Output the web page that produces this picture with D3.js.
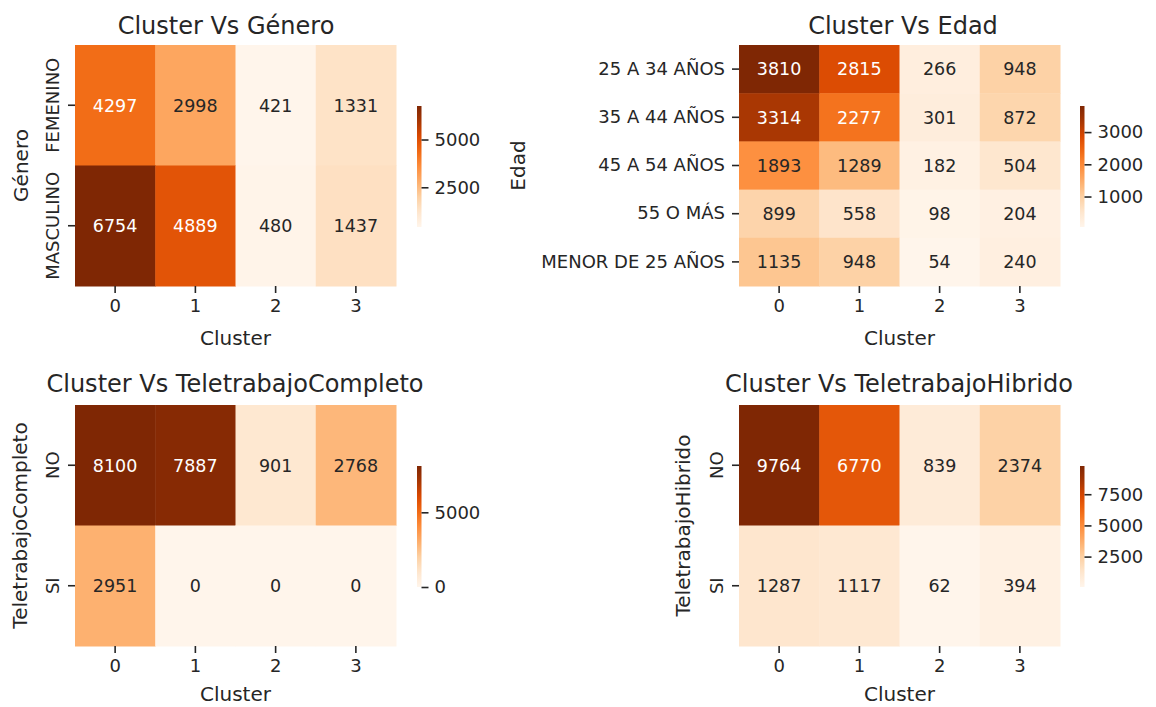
<!DOCTYPE html>
<html>
<head>
<meta charset="utf-8">
<script src="https://cdn.jsdelivr.net/npm/d3@7"></script>
<style>
  html, body { margin: 0; padding: 0; background: #fff; }
  svg { display: block; font-family: "DejaVu Sans", sans-serif; }
</style>
</head>
<body>
<svg id="chart" width="1156" height="707"></svg>
<script>
// ---------------- data ----------------
const clusters = ["0", "1", "2", "3"];

const generoCats = ["FEMENINO", "MASCULINO"];
const generoValues = [
  [4297, 2998, 421, 1331],
  [6754, 4889, 480, 1437]
];
const generoTicks = [2500, 5000];

const edadCats = ["25 A 34 AÑOS", "35 A 44 AÑOS", "45 A 54 AÑOS", "55 O MÁS", "MENOR DE 25 AÑOS"];
const edadValues = [
  [3810, 2815, 266, 948],
  [3314, 2277, 301, 872],
  [1893, 1289, 182, 504],
  [899, 558, 98, 204],
  [1135, 948, 54, 240]
];
const edadTicks = [1000, 2000, 3000];

const completoCats = ["NO", "SI"];
const completoValues = [
  [8100, 7887, 901, 2768],
  [2951, 0, 0, 0]
];
const completoTicks = [0, 5000];

const hibridoCats = ["NO", "SI"];
const hibridoValues = [
  [9764, 6770, 839, 2374],
  [1287, 1117, 62, 394]
];
const hibridoTicks = [2500, 5000, 7500];

// ---------------- layout ----------------
const panels = [
  { title: "Cluster Vs Género", ylabel: "Género", cats: generoCats, values: generoValues, ticks: generoTicks,
    x0: 75, y0: 45, w: 321, h: 241, titleX: 226, titleY: 34, ylabX: 28, rotY: true, cbX: 417, xlabY: 345 },
  { title: "Cluster Vs Edad", ylabel: "Edad", cats: edadCats, values: edadValues, ticks: edadTicks,
    x0: 739, y0: 45, w: 321, h: 241, titleX: 903, titleY: 34, ylabX: 525, rotY: false, cbX: 1080, xlabY: 345 },
  { title: "Cluster Vs TeletrabajoCompleto", ylabel: "TeletrabajoCompleto", cats: completoCats, values: completoValues, ticks: completoTicks,
    x0: 75, y0: 405, w: 321, h: 241, titleX: 235, titleY: 392, ylabX: 27, rotY: true, cbX: 417, xlabY: 701 },
  { title: "Cluster Vs TeletrabajoHibrido", ylabel: "TeletrabajoHibrido", cats: hibridoCats, values: hibridoValues, ticks: hibridoTicks,
    x0: 739, y0: 405, w: 321, h: 241, titleX: 899, titleY: 392, ylabX: 690, rotY: true, cbX: 1080, xlabY: 701 }
];

const TEXT = "#262626";
const svg = d3.select("#chart");
const defs = svg.append("defs");

function luminance(c) {
  const rgb = d3.rgb(c);
  const f = v => { v /= 255; return v <= 0.03928 ? v / 12.92 : Math.pow((v + 0.055) / 1.055, 2.4); };
  return 0.2126 * f(rgb.r) + 0.7152 * f(rgb.g) + 0.0722 * f(rgb.b);
}

panels.forEach((p, pi) => {
  const flat = p.values.flat();
  const vmin = d3.min(flat), vmax = d3.max(flat);
  const scheme = d3.schemeOranges[9];
  const color = d3.scaleLinear()
    .domain(scheme.map((_, i) => vmin + (vmax - vmin) * i / (scheme.length - 1)))
    .range(scheme)
    .interpolate(d3.interpolateRgb)
    .clamp(true);

  const x = d3.scaleBand().domain(clusters).range([p.x0, p.x0 + p.w]).padding(0);
  const y = d3.scaleBand().domain(p.cats).range([p.y0, p.y0 + p.h]).padding(0);

  const g = svg.append("g");

  const cells = [];
  p.values.forEach((row, ri) => row.forEach((v, ci) => cells.push({ r: p.cats[ri], c: clusters[ci], v })));

  g.selectAll("rect.cell").data(cells).enter().append("rect")
    .attr("class", "cell")
    .attr("x", d => x(d.c))
    .attr("y", d => y(d.r))
    .attr("width", x.bandwidth() + 0.5)
    .attr("height", y.bandwidth() + 0.5)
    .attr("fill", d => color(d.v));

  g.selectAll("text.annot").data(cells).enter().append("text")
    .attr("class", "annot")
    .attr("x", d => x(d.c) + x.bandwidth() / 2)
    .attr("y", d => y(d.r) + y.bandwidth() / 2)
    .attr("dy", "0.36em")
    .attr("text-anchor", "middle")
    .attr("font-size", 17.5)
    .attr("fill", d => luminance(color(d.v)) < 0.408 ? "#ffffff" : TEXT)
    .text(d => d.v);

  // x axis
  const xAxis = g.append("g")
    .attr("transform", `translate(0,${p.y0 + p.h})`)
    .call(d3.axisBottom(x).tickSize(7).tickPadding(6));
  xAxis.select(".domain").remove();
  xAxis.selectAll("line").attr("stroke", TEXT).attr("stroke-width", 1.6);
  xAxis.selectAll("text").attr("font-size", 18).attr("fill", TEXT).attr("font-family", "DejaVu Sans");

  // y axis
  const yAxis = g.append("g")
    .attr("transform", `translate(${p.x0},0)`)
    .call(d3.axisLeft(y).tickSize(7).tickPadding(7));
  yAxis.select(".domain").remove();
  yAxis.selectAll("line").attr("stroke", TEXT).attr("stroke-width", 1.6);
  yAxis.selectAll("text").attr("font-size", 18).attr("fill", TEXT).attr("font-family", "DejaVu Sans");
  if (p.rotY) {
    yAxis.selectAll("text")
      .attr("x", null).attr("dy", null)
      .attr("text-anchor", "middle")
      .attr("transform", "translate(-16,0) rotate(-90)")
      .attr("y", 0);
  }

  // axis labels
  svg.append("text")
    .attr("x", p.x0 + p.w / 2)
    .attr("y", p.xlabY)
    .attr("text-anchor", "middle")
    .attr("font-size", 20)
    .attr("fill", TEXT)
    .text("Cluster");

  svg.append("text")
    .attr("transform", `translate(${p.ylabX},${p.y0 + p.h / 2}) rotate(-90)`)
    .attr("text-anchor", "middle")
    .attr("font-size", 20)
    .attr("fill", TEXT)
    .text(p.ylabel);

  // title
  svg.append("text")
    .attr("x", p.titleX)
    .attr("y", p.titleY)
    .attr("text-anchor", "middle")
    .attr("font-size", 24)
    .attr("fill", TEXT)
    .text(p.title);

  // colorbar
  const cbTop = p.y0 + 61, cbBot = p.y0 + p.h - 59, cbW = 4.5;
  const gid = "grad" + pi;
  const grad = defs.append("linearGradient").attr("id", gid)
    .attr("x1", 0).attr("y1", 1).attr("x2", 0).attr("y2", 0);
  d3.range(0, 1.0001, 0.05).forEach(t => {
    grad.append("stop").attr("offset", t).attr("stop-color", color(vmin + t * (vmax - vmin)));
  });
  svg.append("rect")
    .attr("x", p.cbX).attr("y", cbTop)
    .attr("width", cbW).attr("height", cbBot - cbTop)
    .attr("fill", `url(#${gid})`);

  const cy = d3.scaleLinear().domain([vmin, vmax]).range([cbBot, cbTop]);
  const cAxis = svg.append("g")
    .attr("transform", `translate(${p.cbX + cbW},0)`)
    .call(d3.axisRight(cy).tickValues(p.ticks).tickFormat(d3.format("d")).tickSize(7).tickPadding(6));
  cAxis.select(".domain").remove();
  cAxis.selectAll("line").attr("stroke", TEXT).attr("stroke-width", 1.6);
  cAxis.selectAll("text").attr("font-size", 18).attr("fill", TEXT).attr("font-family", "DejaVu Sans");
});
</script>
</body>
</html>
